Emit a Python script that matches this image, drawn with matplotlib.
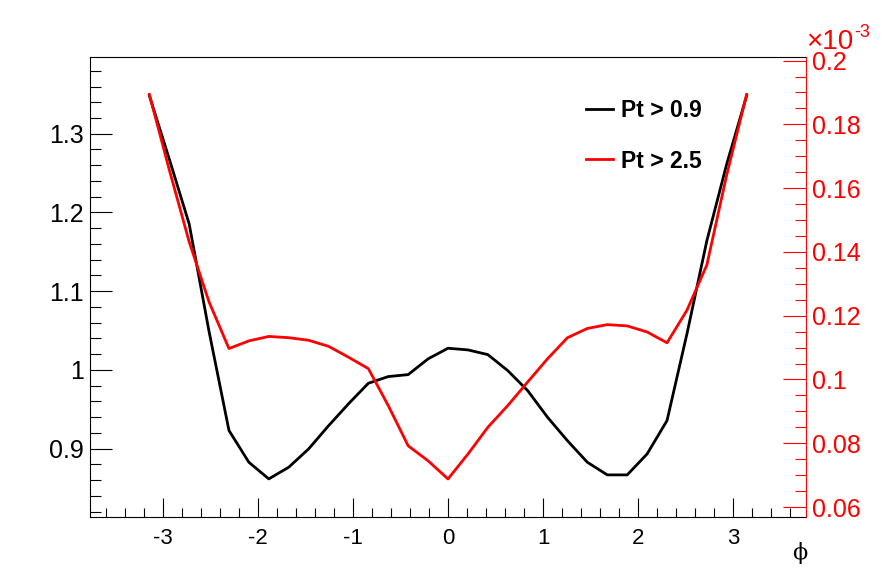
import numpy as np
import matplotlib
matplotlib.use('Agg')
import matplotlib.pyplot as plt
from matplotlib.ticker import MultipleLocator, FuncFormatter

plt.rcParams['font.family'] = ['Liberation Sans', 'DejaVu Sans']
plt.rcParams['axes.unicode_minus'] = False

# 31 points from -pi to pi
phi = np.linspace(-np.pi, np.pi, 31)

# Pt > 0.9, left axis
ratio_pt09 = [1.3485, 1.268, 1.1855, 1.0487, 0.923, 0.8826, 0.8615, 0.8763,
              0.8996, 0.929, 0.9568, 0.983, 0.9915, 0.994, 1.014, 1.0275,
              1.0254, 1.0194, 0.9991, 0.9737, 0.9398, 0.910, 0.8826, 0.8666,
              0.8666, 0.8932, 0.9356, 1.0457, 1.164, 1.2617, 1.3485]

# Pt > 2.5, right axis, in units of 1e-3
ratio_pt25 = [0.1894, 0.1658, 0.1432, 0.1243, 0.1097, 0.1121, 0.1135, 0.1131,
              0.1123, 0.1104, 0.1070, 0.1034, 0.0918, 0.0792, 0.0745, 0.0688,
              0.0766, 0.0850, 0.0918, 0.0992, 0.1065, 0.1131, 0.1160, 0.1172,
              0.1168, 0.1149, 0.1115, 0.1217, 0.1359, 0.1642, 0.1894]

labels = ['Pt > 0.9', 'Pt > 2.5']

fmt = FuncFormatter(lambda v, pos: '%g' % round(v, 6))

fig = plt.figure(figsize=(8.96, 5.74), dpi=100)
ax = fig.add_axes([0.1, 0.1, 0.8, 0.8])
l1, = ax.plot(phi, ratio_pt09, color='black', lw=2, label=labels[0])
ax.set_xlim(-1.2 * np.pi, 1.2 * np.pi)
ax.set_ylim(0.8136, 1.397)

ax.xaxis.set_major_locator(MultipleLocator(1))
ax.xaxis.set_minor_locator(MultipleLocator(0.2))
ax.yaxis.set_major_locator(MultipleLocator(0.1))
ax.yaxis.set_minor_locator(MultipleLocator(0.02))
ax.xaxis.set_major_formatter(fmt)
ax.yaxis.set_major_formatter(fmt)
ax.tick_params(axis='x', which='both', direction='in', top=False, labelsize=16, pad=8.5, width=0.8)
ax.tick_params(axis='x', which='major', length=13.7)
ax.tick_params(axis='x', which='minor', length=6.8)
ax.tick_params(axis='y', which='both', direction='in', right=False, labelsize=18, pad=4, width=0.8)
ax.tick_params(axis='y', which='major', length=15.8)
ax.tick_params(axis='y', which='minor', length=7.9)
ax.spines['right'].set_visible(False)
for s in ['left', 'top', 'bottom']:
    ax.spines[s].set_linewidth(0.8)

ax2 = ax.twinx()
l2, = ax2.plot(phi, ratio_pt25, color='red', lw=2, label=labels[1])
ax2.set_ylim(0.057, 0.201)
ax2.yaxis.set_major_locator(MultipleLocator(0.02))
ax2.yaxis.set_minor_locator(MultipleLocator(0.005))
ax2.yaxis.set_major_formatter(fmt)
ax2.tick_params(axis='y', which='both', direction='in', colors='red', labelsize=18, pad=4, width=0.8)
ax2.tick_params(axis='y', which='major', length=16.3)
ax2.tick_params(axis='y', which='minor', length=8.2)
for s in ['left', 'top', 'bottom']:
    ax2.spines[s].set_visible(False)
ax2.spines['right'].set_color('red')
ax2.spines['right'].set_linewidth(0.8)

# exponent label of the right axis
fig.text(806 / 896, 1 - 49 / 574, '\u00d710', color='red', fontsize=20,
         ha='left', va='baseline')
fig.text(854 / 896, 1 - 37 / 574, '-3', color='red', fontsize=13,
         ha='left', va='baseline')
fig.text(800 / 896, 1 - 553 / 574, '\u03d5', fontsize=16, ha='center', va='center',
         family='DejaVu Serif')

ax2.legend(handles=[l1, l2], loc='upper left', bbox_to_anchor=(586 / 896, 1 - 99 / 574),
           bbox_transform=fig.transFigure, frameon=False, borderpad=0, borderaxespad=0,
           handlelength=1.18, handletextpad=0.34, labelspacing=1.2,
           prop={'weight': 'bold', 'size': 16.5})

fig.savefig('out.png', dpi=100)
